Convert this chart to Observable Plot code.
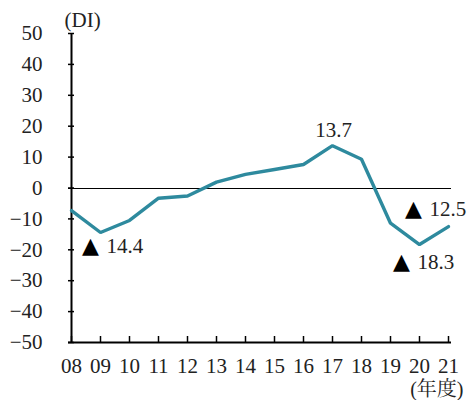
<!DOCTYPE html>
<html>
<head>
<meta charset="utf-8">
<script src="https://cdn.jsdelivr.net/npm/d3@7"></script>
<script src="https://cdn.jsdelivr.net/npm/@observablehq/plot@0.6"></script>
<style>
  html, body { margin: 0; padding: 0; background: #fff; }
  svg { display: block; }
</style>
</head>
<body>
<div id="chart"></div>
<script>
const years = ["08","09","10","11","12","13","14","15","16","17","18","19","20","21"];
const values = [-7.3, -14.4, -10.5, -3.3, -2.6, 1.9, 4.4, 6.0, 7.6, 13.7, 9.3, -11.4, -18.3, -12.5];
const yTicks = [-50, -40, -30, -20, -10, 0, 10, 20, 30, 40, 50];
const annotations = [
  {year: "09", value: -14.4, text: "14.4", neg: true, dx: 6, dy: 14},
  {year: "17", value: 13.7, text: "13.7", neg: false, dx: 1, dy: -15},
  {year: "20", value: -18.3, text: "18.3", neg: true, dx: -2, dy: 18},
  {year: "21", value: -12.5, text: "12.5", neg: true, dx: -19, dy: -17}
];

const data = years.map((y, i) => ({year: y, value: values[i]}));
const font = "'Liberation Serif', 'Noto Serif CJK JP', serif";
const color = "#2e8a9e";

const chart = Plot.plot({
  width: 472,
  height: 400,
  marginLeft: 68,
  marginRight: 21,
  marginTop: 33,
  marginBottom: 58,
  style: {fontSize: "21px", color: "#222", background: "#fff"},
  x: {type: "point", domain: years, padding: 0, label: null},
  y: {domain: [-50, 50], ticks: yTicks, label: null},
  marks: [
    Plot.axisY({ticks: yTicks, tickSize: 0, tickPadding: 26, fontSize: 21, fontFamily: font, label: null, fill: "#222"}),
    Plot.axisX({tickSize: 0, tickPadding: 16, fontSize: 21, fontFamily: font, label: null, fill: "#222"}),
    Plot.axisY({ticks: yTicks, tickSize: -6, text: null, label: null, stroke: "#000", strokeWidth: 1.5}),
    Plot.axisX({tickSize: -6, text: null, label: null, anchor: "bottom", stroke: "#000", strokeWidth: 1.5}),
    Plot.ruleY([0], {stroke: "#000", strokeWidth: 1, shapeRendering: "crispEdges"}),
    Plot.ruleX([years[0]], {stroke: "#000", strokeWidth: 2}),
    Plot.ruleY([-50], {stroke: "#000", strokeWidth: 2}),
    Plot.line(data, {x: "year", y: "value", stroke: color, strokeWidth: 3.4, strokeLinejoin: "miter"}),
    ...annotations.map(a => Plot.text([a], {
      x: "year", y: "value", text: "text",
      dx: a.dx, dy: a.dy,
      textAnchor: a.neg ? "start" : "middle",
      fontSize: 21, fontFamily: font, fill: "#222"
    })),
    ...annotations.filter(a => a.neg).map(a => Plot.text([a], {
      x: "year", y: "value", text: () => "▲",
      dx: a.dx - 16, dy: a.dy - 1,
      textAnchor: "middle",
      fontSize: 22, fontFamily: "'DejaVu Sans', sans-serif", fill: "#000"
    })),
    Plot.text(["(DI)"], {frameAnchor: "top-left", dx: -4, dy: -21, textAnchor: "start", fontSize: 21, fontFamily: font, fill: "#222"}),
    Plot.text(["(年度)"], {frameAnchor: "bottom-right", dx: 12, dy: 53, textAnchor: "end", fontSize: 20, fontFamily: font, fill: "#222"})
  ]
});
d3.select(chart).selectAll("text").filter(function() { return this.textContent !== "▲"; }).style("font-family", font, "important");
document.getElementById("chart").appendChild(chart);
</script>
</body>
</html>
